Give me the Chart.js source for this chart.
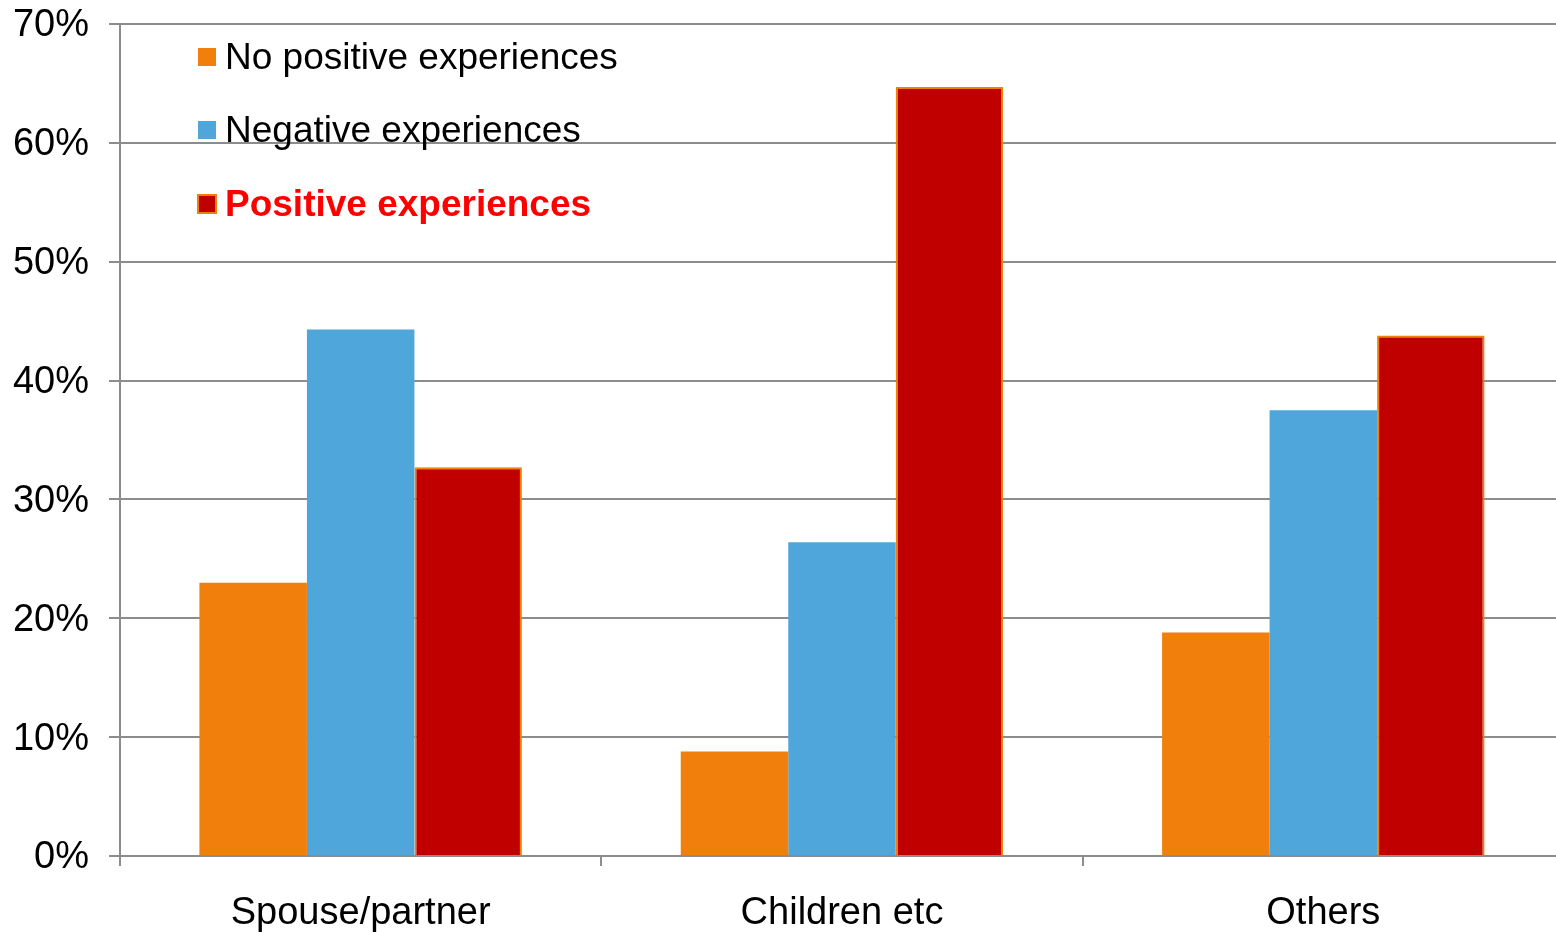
<!DOCTYPE html>
<html>
<head>
<meta charset="utf-8">
<script src="https://cdn.jsdelivr.net/npm/chart.js@4.4.0/dist/chart.umd.min.js"></script>
<style>
  html, body { margin: 0; padding: 0; background: #fff; }
  #clip { width: 1556px; height: 932px; overflow: hidden; }
  #wrap { width: 1564px; height: 932px; position: relative; }
</style>
</head>
<body>
<div id="clip"><div id="wrap"><canvas id="myChart"></canvas></div></div>
<script>
const categories = ['Spouse/partner', 'Children etc', 'Others'];
const noPositive = [23.0, 8.8, 18.8];
const negative = [44.3, 26.4, 37.5];
const positive = [32.7, 64.7, 43.8];
const seriesNames = ['No positive experiences', 'Negative experiences', 'Positive experiences'];
const yTicks = [0, 10, 20, 30, 40, 50, 60, 70];

const orange = '#f07f0b';
const blue = '#4fa6da';
const red = '#c00000';
const gridColor = '#8c8c8c';
const fontFamily = '"Liberation Sans", Arial, sans-serif';

// legend drawn inside the plot, top left
const insideLegend = {
    id: 'insideLegend',
    afterDraw(chart) {
        const ctx = chart.ctx;
        const rows = [57, 130, 204];
        ctx.save();
        chart.data.datasets.forEach((ds, i) => {
            const y = rows[i];
            ctx.fillStyle = ds.backgroundColor;
            ctx.fillRect(198, y - 9, 18, 18);
            if (i === 2) {
                ctx.strokeStyle = orange;
                ctx.lineWidth = 2;
                ctx.strokeRect(198, y - 9, 18, 18);
            }
            ctx.font = (i === 2 ? 'bold ' : '') + '37px ' + fontFamily;
            ctx.fillStyle = i === 2 ? '#ff0000' : '#000000';
            ctx.textAlign = 'left';
            ctx.textBaseline = 'middle';
            ctx.fillText(ds.label, 225, y + 2);
        });
        ctx.restore();
    }
};

const data = {
    labels: categories,
    datasets: [
        {
            label: seriesNames[0],
            data: noPositive,
            backgroundColor: orange,
            borderWidth: 0
        },
        {
            label: seriesNames[1],
            data: negative,
            backgroundColor: blue,
            borderWidth: 0
        },
        {
            label: seriesNames[2],
            data: positive,
            backgroundColor: red,
            borderColor: orange,
            borderWidth: 2
        }
    ]
};

const config = {
    type: 'bar',
    data: data,
    options: {
        responsive: true,
        maintainAspectRatio: false,
        animation: false,
        devicePixelRatio: 1,
        layout: { padding: { top: 24, right: 0, bottom: 0, left: 0 } },
        datasets: {
            bar: { categoryPercentage: 0.67, barPercentage: 1.0 }
        },
        plugins: {
            legend: { display: false },
            tooltip: { enabled: false }
        },
        scales: {
            x: {
                afterFit(scale) { scale.height = 76; scale.paddingTop = 0; },
                grid: {
                    offset: true,
                    drawOnChartArea: false,
                    drawTicks: true,
                    tickLength: 10,
                    color: gridColor,
                    lineWidth: 2
                },
                border: { display: true, color: gridColor, width: 2 },
                ticks: {
                    color: '#000',
                    padding: 25,
                    font: { family: fontFamily, size: 38 }
                }
            },
            y: {
                min: 0,
                max: 70,
                afterFit(scale) { scale.width = 120; scale.paddingTop = 0; },
                afterBuildTicks(scale) {
                    scale.ticks = yTicks.map(v => ({ value: v }));
                },
                grid: {
                    color: gridColor,
                    lineWidth: 2,
                    drawTicks: true,
                    tickLength: 11
                },
                border: { display: true, color: gridColor, width: 2 },
                ticks: {
                    color: '#000',
                    padding: 20,
                    labelOffset: 2,
                    font: { family: fontFamily, size: 38 },
                    callback: v => v + '%'
                }
            }
        }
    },
    plugins: [insideLegend]
};

const chart = new Chart(document.getElementById('myChart'), config);
</script>
</body>
</html>
